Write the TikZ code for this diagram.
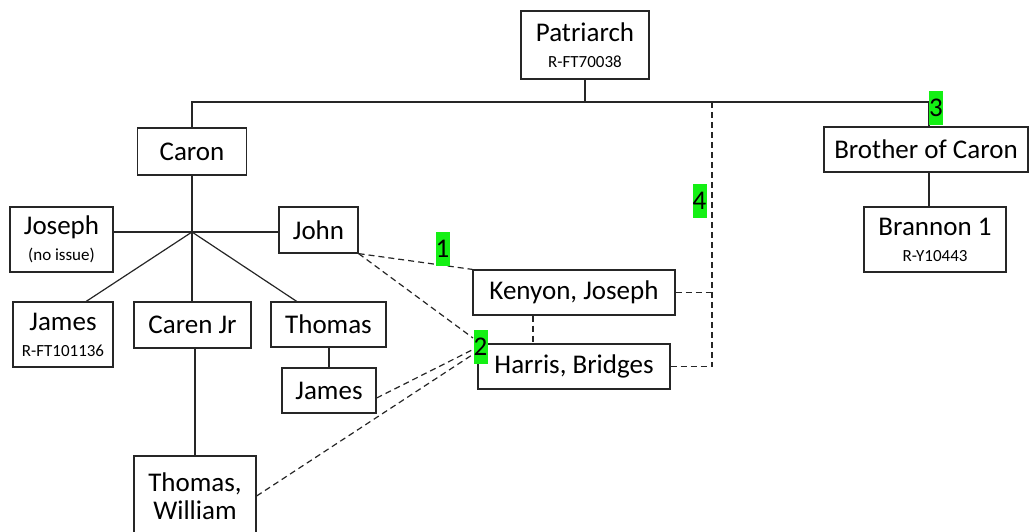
\documentclass[tikz,border=0pt]{standalone}
\usepackage{fontspec}
\setmainfont{Carlito}
\usetikzlibrary{positioning}

\definecolor{hlgreen}{RGB}{20,240,20}
\newcommand{\rid}[1]{{\fontsize{17}{19}\selectfont #1}}

\begin{document}
\begin{tikzpicture}[x=1pt, y=-1pt,
        person/.style = {draw=black!85, line width=1.2pt, inner sep=0pt, align=center, font=\fontsize{27}{30}\selectfont},
        tie/.style = {black!85, line width=1.2pt},
        link/.style = {black!85, line width=1.2pt, dash pattern=on 6pt off 4pt},
        tag/.style = {fill=hlgreen, inner sep=0pt, minimum width=14pt, minimum height=34pt, font=\fontsize{27}{30}\selectfont}
        ]
        \useasboundingbox (0,0) rectangle (1029,531);

        % people
        \node[person, minimum width=128pt, minimum height=68pt] (Patriarch) at (585,45) {Patriarch\\[-4pt]\rid{R-FT70038}};
        \node[person, minimum width=109pt, minimum height=47pt] (Caron) at (192,151.5) {Caron};
        \node[person, minimum width=204pt, minimum height=45pt] (Brother) at (926,149.5) {Brother of Caron};
        \node[person, minimum width=142pt, minimum height=65pt] (Brannon) at (935,239.5) {Brannon 1\\[-4pt]\rid{R-Y10443}};

        \node[person, minimum width=103pt, minimum height=65pt] (Joseph) at (61.5,239.5) {Joseph\\[-4pt]\rid{(no issue)}};
        \node[person, minimum width=79pt, minimum height=46pt] (John) at (318.5,230) {John};
        \node[person, minimum width=100pt, minimum height=65pt] (JamesA) at (63,334.5) {James\\[-4pt]\rid{R-FT101136}};
        \node[person, minimum width=117pt, minimum height=46pt] (CarenJr) at (192.5,325) {Caren Jr};
        \node[person, minimum width=115pt, minimum height=45pt] (Thomas) at (328.5,324.5) {Thomas};
        \node[person, minimum width=94pt, minimum height=45pt] (JamesB) at (329,390.5) {James};
        \node[person, minimum width=122pt, minimum height=80pt] (ThomasW) at (195,496) {Thomas,\\[-2pt]William};

        \node[person, minimum width=202pt, minimum height=45pt] (Kenyon) at (574,292.5) {Kenyon, Joseph};
        \node[person, minimum width=192pt, minimum height=45pt] (Harris) at (574,366.5) {Harris, Bridges};

        % family tree
        \coordinate (barL) at (192,102);
        \coordinate (barR) at (929,102);
        \coordinate (hub) at (192,232);
        \draw[tie] (Patriarch.south) -- (Patriarch.south |- barL);
        \draw[tie] (Caron.north) -- (barL) -- (barR) -- (barR |- Brother.north);
        \draw[tie] (barR |- Brother.south) -- (barR |- Brannon.north);
        \draw[tie] (Caron.south) -- (hub);
        \draw[tie] (hub) -- (Joseph.east |- hub);
        \draw[tie] (hub) -- (John.west |- hub);
        \draw[tie] (hub) -- (JamesA.55);
        \draw[tie] (hub) -- (hub |- CarenJr.north);
        \draw[tie] (hub) -- (Thomas.144);
        \draw[tie] (ThomasW.north |- CarenJr.south) -- (ThomasW.north);
        \draw[tie] (JamesB.north |- Thomas.south) -- (JamesB.north);

        % dashed links
        \coordinate (vTop) at (712,102);
        \coordinate (kh) at (533,0);
        \coordinate (endA) at (473,338);
        \coordinate (endB) at (472,350);
        \coordinate (endC) at (472,355);
        \draw[link] (John.south east) -- (Kenyon.north west);
        \draw[link] (John.south east) -- (endA);
        \draw[link] (JamesB.east |- 0,398) -- (endB);
        \draw[link] (ThomasW.east) -- (endC);
        \draw[link] (kh |- Kenyon.south) -- (kh |- Harris.north);
        \draw[link] (Kenyon.east) -- (Kenyon.east -| vTop);
        \draw[link] (Harris.east) -- (Harris.east -| vTop) -- (vTop);

        % markers
        \node[tag] (n1) at (442.5,249) {1};
        \node[tag] (n2) at (480.5,346.5) {2};
        \node[tag] (n3) at (936,108) {3};
        \node[tag] (n4) at (699.5,201) {4};

\end{tikzpicture}
\end{document}
